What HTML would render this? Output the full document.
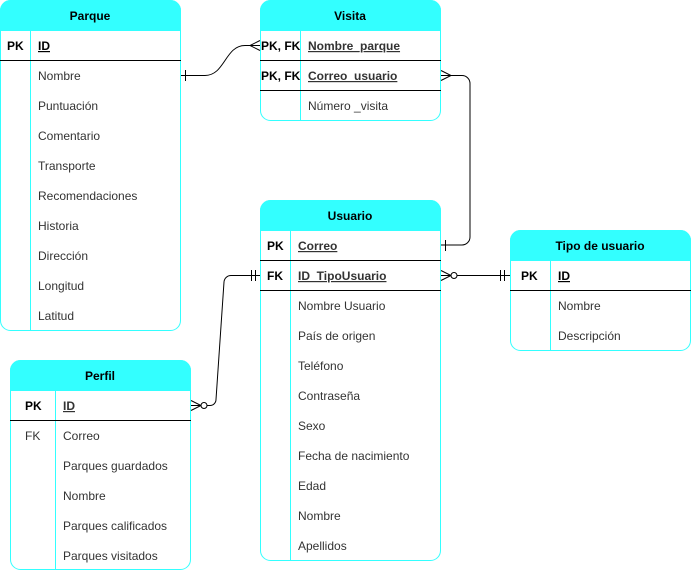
<!DOCTYPE html>
<html><head><meta charset="utf-8"><style>
body{margin:0;background:#fff;}
svg text{font-family:"Liberation Sans",sans-serif;font-size:12px;fill:#333;}
.h{font-weight:bold;fill:#000;text-anchor:middle}
.k{font-weight:bold;text-decoration:underline}
.p{font-weight:bold;fill:#000}
</style></head><body>
<svg width="691" height="571" viewBox="0 0 691 571" xmlns="http://www.w3.org/2000/svg">
<g fill="none" stroke-width="1">
<!-- tables bodies -->
<g stroke="#33ffff">
<rect x="0.5" y="0.5" width="180" height="330" rx="10" fill="#fff"/>
<rect x="260.5" y="0.5" width="180" height="120" rx="10" fill="#fff"/>
<rect x="260.5" y="200.5" width="180" height="360" rx="10" fill="#fff"/>
<rect x="510.5" y="230.5" width="180" height="120" rx="10" fill="#fff"/>
<rect x="10.5" y="360.5" width="180" height="209" rx="10" fill="#fff"/>
</g>
<!-- headers -->
<g fill="#33ffff" stroke="#33ffff">
<path d="M0.5 30.5V10.5a10 10 0 0 1 10-10h160a10 10 0 0 1 10 10v20z"/>
<path d="M260.5 30.5V10.5a10 10 0 0 1 10-10h160a10 10 0 0 1 10 10v20z"/>
<path d="M260.5 230.5V210.5a10 10 0 0 1 10-10h160a10 10 0 0 1 10 10v20z"/>
<path d="M510.5 260.5V240.5a10 10 0 0 1 10-10h160a10 10 0 0 1 10 10v20z"/>
<path d="M10.5 390.5V370.5a10 10 0 0 1 10-10h160a10 10 0 0 1 10 10v20z"/>
</g>
<!-- dividers -->
<g stroke="#33ffff">
<line x1="30.5" y1="30" x2="30.5" y2="330"/>
<line x1="300.5" y1="30" x2="300.5" y2="120"/>
<line x1="290.5" y1="230" x2="290.5" y2="560"/>
<line x1="550.5" y1="260" x2="550.5" y2="350"/>
<line x1="55.5" y1="390" x2="55.5" y2="569"/>
</g>
<g stroke="#000">
<line x1="0" y1="60.5" x2="181" y2="60.5"/>
<line x1="260" y1="60.5" x2="441" y2="60.5"/>
<line x1="260" y1="90.5" x2="441" y2="90.5"/>
<line x1="260" y1="260.5" x2="441" y2="260.5"/>
<line x1="260" y1="290.5" x2="441" y2="290.5"/>
<line x1="510" y1="290.5" x2="691" y2="290.5"/>
<line x1="10" y1="420.5" x2="191" y2="420.5"/>
</g>
<!-- connectors -->
<g stroke="#000">
<path d="M181 75.5H205C225 75.5 225 45.5 245 45.5H260"/>
<line x1="185.5" y1="70" x2="185.5" y2="81"/>
<path d="M260 40.5L250 45.5L260 50.5"/>
<path d="M441 75.5H462a8 8 0 0 1 8 8V237a8 8 0 0 1-8 8H441"/>
<path d="M441 70.5L451 75.5L441 80.5"/>
<line x1="445.5" y1="240" x2="445.5" y2="251"/>
<path d="M441 275.5H510"/>
<path d="M441 270.5L451 275.5L441 280.5"/>
<circle cx="454" cy="275.5" r="3" fill="#fff"/>
<line x1="500.5" y1="270" x2="500.5" y2="281"/>
<line x1="504.5" y1="270" x2="504.5" y2="281"/>
<path d="M191 405.5H210a6 6 0 0 0 6-6L224 282a7 7 0 0 1 7-6.5H260"/>
<path d="M191 400.5L201 405.5L191 410.5"/>
<circle cx="204" cy="405.5" r="3" fill="#fff"/>
<line x1="251.5" y1="270" x2="251.5" y2="281"/>
<line x1="255.5" y1="270" x2="255.5" y2="281"/>
</g>
</g>
<text class="h" x="90" y="20">Parque</text>
<text class="p" x="7" y="50">PK</text><text class="k" x="38" y="50" style="fill:#000">ID</text>
<text x="38" y="80">Nombre</text><text x="38" y="110">Puntuación</text><text x="38" y="140">Comentario</text>
<text x="38" y="170">Transporte</text><text x="38" y="200">Recomendaciones</text><text x="38" y="230">Historia</text>
<text x="38" y="260">Dirección</text><text x="38" y="290">Longitud</text><text x="38" y="320">Latitud</text>
<text class="h" x="350" y="20">Visita</text>
<text class="p" x="261" y="50">PK, FK</text><text class="k" x="308" y="50">Nombre_parque</text>
<text class="p" x="261" y="80">PK, FK</text><text class="k" x="308" y="80">Correo_usuario</text>
<text x="308" y="110">Número _visita</text>
<text class="h" x="350" y="220">Usuario</text>
<text class="p" x="267" y="250">PK</text><text class="k" x="298" y="250">Correo</text>
<text class="p" x="267" y="280">FK</text><text class="k" x="298" y="280">ID_TipoUsuario</text>
<text x="298" y="310">Nombre Usuario</text><text x="298" y="340">País de origen</text><text x="298" y="370">Teléfono</text>
<text x="298" y="400">Contraseña</text><text x="298" y="430">Sexo</text><text x="298" y="460">Fecha de nacimiento</text>
<text x="298" y="490">Edad</text><text x="298" y="520">Nombre</text><text x="298" y="550">Apellidos</text>
<text class="h" x="600" y="250">Tipo de usuario</text>
<text class="p" x="521" y="280">PK</text><text class="k" x="558" y="280" style="fill:#000">ID</text>
<text x="558" y="310">Nombre</text><text x="558" y="340">Descripción</text>
<text class="h" x="100" y="380">Perfil</text>
<text class="p" x="25" y="410">PK</text><text class="k" x="63" y="410">ID</text>
<text x="25" y="440">FK</text><text x="63" y="440">Correo</text>
<text x="63" y="470">Parques guardados</text><text x="63" y="500">Nombre</text>
<text x="63" y="530">Parques calificados</text><text x="63" y="560">Parques visitados</text>
</svg>
</body></html>
